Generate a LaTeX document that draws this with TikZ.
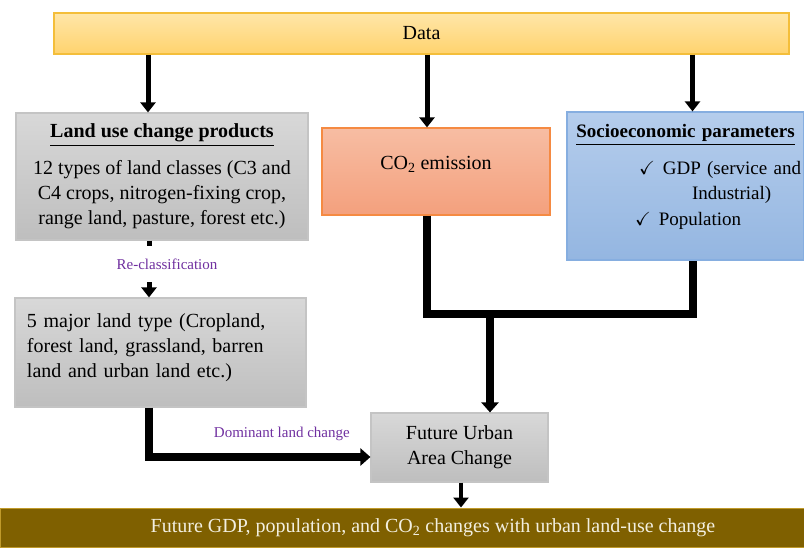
\documentclass[tikz,border=0pt]{standalone}
\usepackage{fontspec}
\setmainfont{Liberation Serif}
\usepackage{amssymb}
\usepackage{xcolor}
\usetikzlibrary{arrows.meta, positioning}

\definecolor{datatop}{HTML}{FFE6A8}
\definecolor{databot}{HTML}{FFD36E}
\definecolor{dataedge}{HTML}{F4BE3A}
\definecolor{graytop}{HTML}{D8D8D8}
\definecolor{graybot}{HTML}{BEBEBE}
\definecolor{grayedge}{HTML}{C4C4C4}
\definecolor{co2top}{HTML}{F7BDA3}
\definecolor{co2bot}{HTML}{F4A07D}
\definecolor{co2edge}{HTML}{F58A42}
\definecolor{sociotop}{HTML}{B5CDEC}
\definecolor{sociobot}{HTML}{94B6E1}
\definecolor{socioedge}{HTML}{86AEE0}
\definecolor{bandfill}{HTML}{7F6000}
\definecolor{bandtext}{HTML}{F2EFE0}
\definecolor{bandedge}{HTML}{C09A2A}
\definecolor{notepurple}{HTML}{7030A0}

\begin{document}
\begin{tikzpicture}[
        x=1pt, y=-1pt,
        every node/.style={font=\fontsize{20}{25}\selectfont},
        box/.style={rectangle, draw, line width=1.2pt, align=center, inner sep=4pt},
        graybox/.style={box, draw=grayedge, top color=graytop, bottom color=graybot},
        note/.style={font=\fontsize{15}{18}\selectfont, text=notepurple},
        arrow/.style={line width=5pt, -{Triangle[width=15pt,length=10pt]}},
        bigline/.style={line width=8pt, line join=miter},
        bigarrow/.style={bigline, -{Triangle[width=17pt,length=10pt]}}
    ]
    \useasboundingbox (0,0) rectangle (804,547);

    \node [box, draw=dataedge, top color=datatop, bottom color=databot, minimum width=735pt, minimum height=41pt] (data) at (421.5,33.5) {Data};

    \node [graybox, minimum width=292pt, minimum height=127pt] (land) at (162,176.5)
        {\underline{\textbf{Land use change products}}\\[12pt]
         12 types of land classes (C3 and\\ C4 crops, nitrogen-fixing crop,\\ range land, pasture, forest etc.)};
    \node [box, draw=co2edge, top color=co2top, bottom color=co2bot, minimum width=228pt, minimum height=87pt] (co2) at (436,171.5)
        {CO\textsubscript{2} emission\rule[-17pt]{0pt}{17pt}};
    \node [box, draw=socioedge, top color=sociotop, bottom color=sociobot, minimum height=148pt, text width=225pt, inner xsep=6pt, align=left,
           font=\fontsize{19}{25.5}\selectfont] (socio) at (685.5,186)
        {\makebox[225pt]{\underline{\textbf{Socioeconomic parameters}}}\\[11pt]
         \mbox{\hspace*{66pt}$\checkmark$\hspace{8pt}GDP (service and}\\
         \mbox{\hspace*{119pt}Industrial)}\\
         \mbox{\hspace*{62pt}$\checkmark$\hspace{8pt}Population}\rule[-22pt]{0pt}{22pt}};

    \node [graybox, minimum height=109pt, text width=267pt, inner xsep=12pt, align=left] (major) at (160.5,352.5)
        {5 major land type (Cropland,\\ forest land, grassland, barren\\ land and urban land etc.)\rule[-13pt]{0pt}{13pt}};
    \node [graybox, minimum width=177pt, minimum height=69pt] (urban) at (459.5,447.5) {Future Urban\\ Area Change};

    \node [rectangle, draw=bandedge, line width=1pt, fill=bandfill, text=bandtext, minimum width=804pt, minimum height=39pt, inner sep=0pt] (band) at (402,527.5)
        {\hspace*{62pt}Future GDP, population, and CO\textsubscript{2} changes with urban land-use change};

    % data feeds the three inputs
    \draw [arrow] ([xshift=-14pt]land.north |- data.south) -- ([xshift=-14pt]land.north);
    \draw [arrow] ([xshift=-9pt]co2.north |- data.south) -- ([xshift=-9pt]co2.north);
    \draw [arrow] ([xshift=7pt]socio.north |- data.south) -- ([xshift=7pt]socio.north);

    \draw [arrow] ([xshift=-13pt]land.south) -- node[note, fill=white, minimum height=36pt, xshift=18pt, yshift=5pt] {Re-classification} ([xshift=-13pt]land.south |- major.north);
    \draw [bigarrow] ([xshift=-13pt]land.south |- major.south) |- node[note, above=9pt, pos=0.8] {Dominant land change} ([yshift=-9.5pt]urban.west);

    % co2 and socioeconomic join
    \coordinate (merge) at (490,314);
    \draw [bigline] ([xshift=-9pt]co2.south) |- (merge) -| ([xshift=7pt]socio.south);
    \draw [bigarrow] (merge) -- (merge |- urban.north);

    \draw [arrow, line width=4pt] ([xshift=1.5pt]urban.south) -- ([xshift=1.5pt]urban.south |- band.north);
\end{tikzpicture}
\end{document}
